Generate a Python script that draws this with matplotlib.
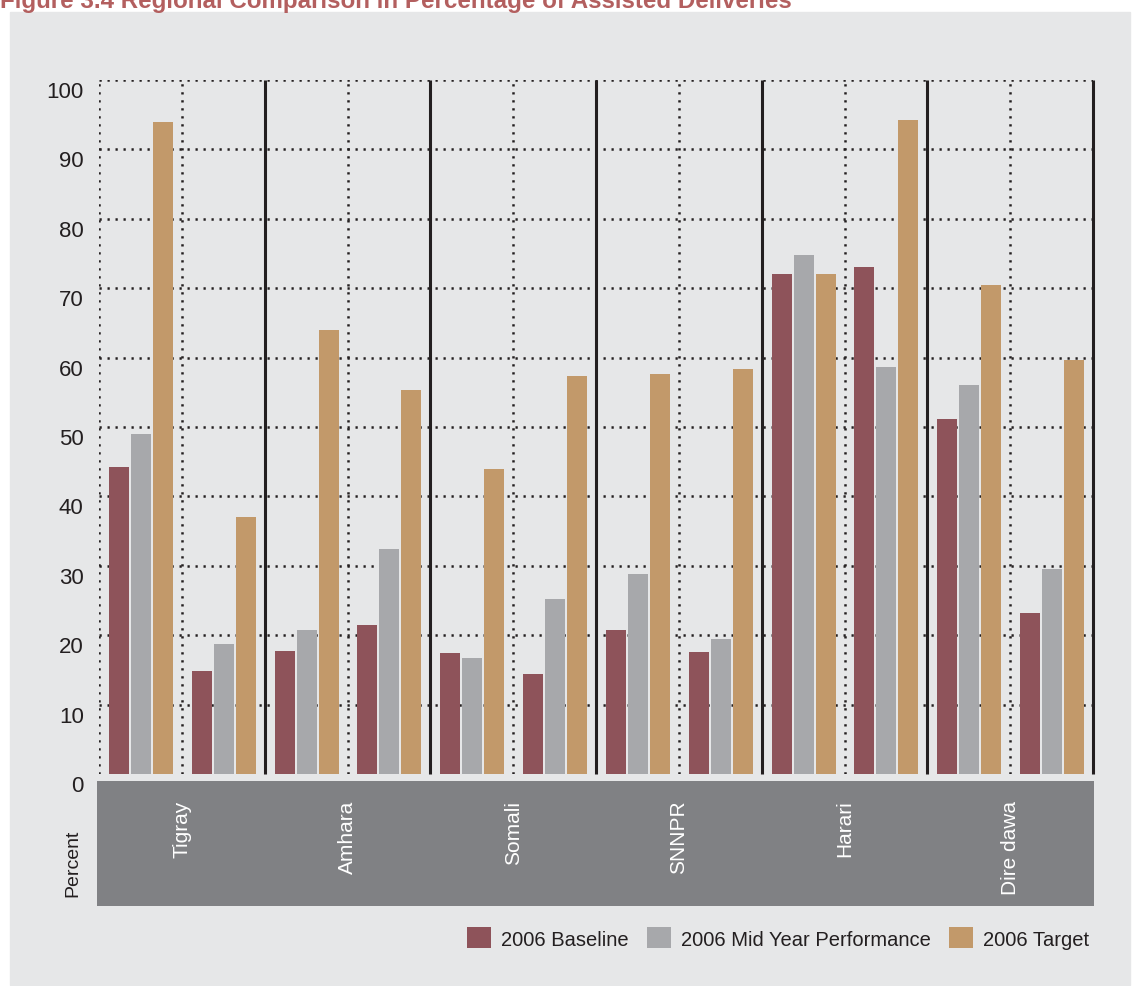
import matplotlib.pyplot as plt
import numpy as np
from matplotlib.patches import Rectangle
from matplotlib.transforms import ScaledTranslation

regions = ['Tigray', 'Amhara', 'Somali', 'SNNPR', 'Harari', 'Dire dawa']
series = ['2006 Baseline', '2006 Mid Year Performance', '2006 Target']
# two groups of bars per region
baseline = [44.2, 14.8, 17.7, 21.4, 17.4, 14.4, 20.7, 17.6, 72.0, 73.0, 51.1, 23.2]
midyear = [49.0, 18.8, 20.7, 32.4, 16.7, 25.2, 28.8, 19.4, 74.8, 58.6, 56.0, 29.5]
target = [94.0, 37.0, 64.0, 55.3, 43.9, 57.4, 57.6, 58.3, 72.0, 94.3, 70.4, 59.6]
yticks = list(range(0, 101, 10))
colors = ['#8e535a', '#a7a8ab', '#c2996a']

plt.rcParams['font.family'] = ['Liberation Sans', 'DejaVu Sans']
ink = '#231f20'

W, H = 1133, 987
fig = plt.figure(figsize=(W / 100, H / 100), dpi=100)
fig.patch.set_facecolor('white')

# grey panel behind everything
fig.patches.append(Rectangle((10 / W, 1 / H), 1 - 13 / W, 1 - 14 / H,
                             transform=fig.transFigure, color='#e6e7e8', zorder=-10))

fig.text(0, 1 - 8 / H, 'Figure 3.4 Regional Comparison in Percentage of Assisted Deliveries',
         color='#b35f5f', fontweight='bold', fontsize=17.4,
         ha='left', va='baseline')

ax = fig.add_axes([99 / W, 1 - 775 / H, 994 / W, 694 / H])
ax.patch.set_visible(False)
for s in ax.spines.values():
    s.set_visible(False)
ax.set_xlim(0, 12)
ax.set_ylim(0, 100)

x = np.arange(len(baseline))
for j, (vals, c, lab) in enumerate(zip([baseline, midyear, target], colors, series)):
    ax.bar(x + 0.24 + 0.266 * j, vals, width=0.241, color=c, label=lab, zorder=3)

dots = (0, (0.9, 2.3))
for v in yticks[1:]:
    ax.axhline(v, color=ink, lw=1.8, ls=dots, zorder=1)
ax.vlines([0, 1, 3, 5, 7, 9, 11], 0, 100, color=ink, lw=1.8, linestyles=[dots], zorder=1)
ax.vlines(range(2, 13, 2), 0, 100, color=ink, lw=2.2, zorder=2, clip_on=False)

ax.set_xticks([])
ax.set_yticks(yticks)
ax.tick_params(axis='y', length=0, pad=11, labelsize=16, labelcolor=ink)
shift = ScaledTranslation(0, -9 / 100, fig.dpi_scale_trans)
for lab in ax.get_yticklabels():
    lab.set_transform(lab.get_transform() + shift)

# dark band with region names
bx = fig.add_axes([97 / W, 1 - 907 / H, 997 / W, 125 / H])
bx.set_facecolor('#808184')
for s in bx.spines.values():
    s.set_visible(False)
bx.set_xticks([])
bx.set_yticks([])
bx.set_xlim(-0.024, 12.012)
bx.set_ylim(0, 1)
for i, r in enumerate(regions):
    bx.text(2 * i + 1, 0.85, r, rotation=90, ha='center', va='top',
            color='white', fontsize=15)

fig.text(73 / W, 1 - 897 / H, 'Percent', rotation=90, ha='center', va='bottom',
         fontsize=14, color=ink)

fig.legend(loc='center left', bbox_to_anchor=(467 / W, 1 - 939 / H), ncol=3,
           frameon=False, fontsize=14.5, handlelength=1.19, handleheight=1.24,
           handletextpad=0.5, columnspacing=0.9, borderpad=0, borderaxespad=0,
           labelcolor=ink)

fig.savefig('out.png', dpi=100)
